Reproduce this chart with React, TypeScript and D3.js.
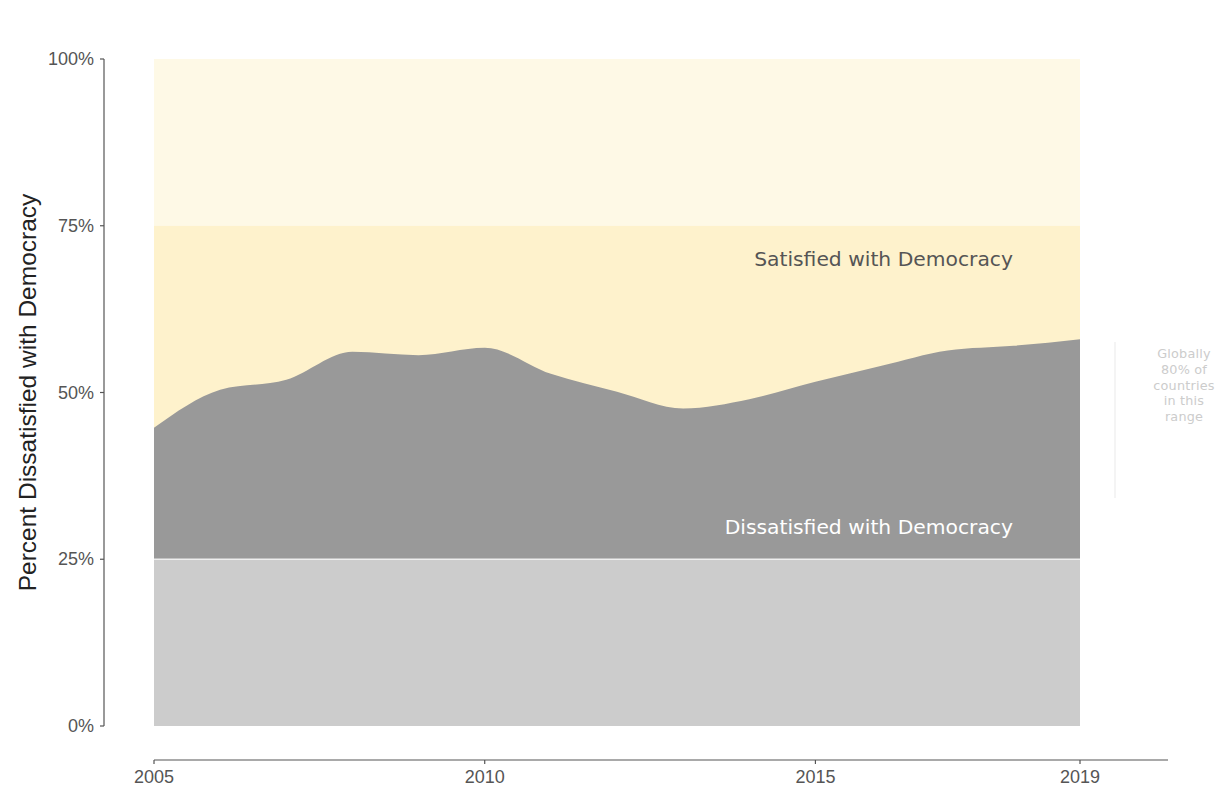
import React from "react";
import * as d3 from "d3";

const years = [2005, 2006, 2007, 2008, 2009, 2010, 2011, 2012, 2013, 2014, 2015, 2016, 2017, 2018, 2019];
const dissatisfied = [44.7, 50.4, 51.9, 56.1, 55.6, 56.7, 52.8, 50.1, 47.6, 49.0, 51.6, 54.0, 56.3, 57.0, 58.0];
const yTicks = [0, 25, 50, 75, 100];
const xTicks = [2005, 2010, 2015, 2019];
const bands = [
  { from: 75, to: 100, color: "#fef9e6" },
  { from: 25, to: 75, color: "#fef2cc" },
  { from: 0, to: 25, color: "#cccccc" },
];
const noteLines = ["Globally", "80% of", "countries", "in this", "range"];

export default function App() {
  const W = 1217, H = 787;
  const x = d3.scaleLinear().domain([2005, 2019]).range([154, 1080]);
  const y = d3.scaleLinear().domain([0, 100]).range([726, 59]);
  const area = d3
    .area<number>()
    .x((_, i) => x(years[i]))
    .y0(y(25))
    .y1((d) => y(d))
    .curve(d3.curveMonotoneX);
  const axisFont = "'Liberation Sans', Arial, sans-serif";
  return (
    <svg width={W} height={H} style={{ position: "absolute", left: 0, top: 0, background: "#fff" }}>
      {bands.map((b, i) => (
        <rect key={i} x={x(2005)} width={x(2019) - x(2005)} y={y(b.to)} height={y(b.from) - y(b.to)} fill={b.color} />
      ))}
      <path d={area(dissatisfied) || ""} fill="#999999" />
      <line x1={x(2005)} x2={x(2019)} y1={y(25)} y2={y(25)} stroke="#eeeeee" strokeWidth={1.5} />
      <text x={1013} y={266} textAnchor="end" fontFamily="'DejaVu Sans', sans-serif" fontSize={20.3} fill="#555555">
        Satisfied with Democracy
      </text>
      <text x={1013} y={534} textAnchor="end" fontFamily="'DejaVu Sans', sans-serif" fontSize={20.3} fill="#ffffff">
        Dissatisfied with Democracy
      </text>
      {/* y axis */}
      <line x1={104} x2={104} y1={y(100)} y2={y(0)} stroke="#555" strokeWidth={1.2} />
      {yTicks.map((t) => (
        <g key={t}>
          <line x1={100} x2={104} y1={y(t)} y2={y(t)} stroke="#555" strokeWidth={1.2} />
          <text x={94} y={y(t) + 6} textAnchor="end" fontFamily={axisFont} fontSize={18} fill="#555">
            {t}%
          </text>
        </g>
      ))}
      <text
        transform={`translate(36, ${y(50)}) rotate(-90)`}
        textAnchor="middle"
        fontFamily={axisFont}
        fontSize={24.5}
        fill="#222"
      >
        Percent Dissatisfied with Democracy
      </text>
      {/* x axis */}
      <line x1={x(2005)} x2={1168} y1={760} y2={760} stroke="#555" strokeWidth={1.2} />
      {xTicks.map((t) => (
        <g key={t}>
          <line x1={x(t)} x2={x(t)} y1={760} y2={764} stroke="#555" strokeWidth={1.2} />
          <text x={x(t)} y={783} textAnchor="middle" fontFamily={axisFont} fontSize={18} fill="#555">
            {t}
          </text>
        </g>
      ))}
      {/* side note */}
      <line x1={1115} x2={1115} y1={342} y2={498} stroke="#f0f0f0" strokeWidth={1.5} />
      {noteLines.map((l, i) => (
        <text
          key={i}
          x={1184}
          y={358 + i * 15.8}
          textAnchor="middle"
          fontFamily="'DejaVu Sans', sans-serif"
          fontSize={12.8}
          letterSpacing={0.2}
          fill="#cccccc"
        >
          {l}
        </text>
      ))}
    </svg>
  );
}
